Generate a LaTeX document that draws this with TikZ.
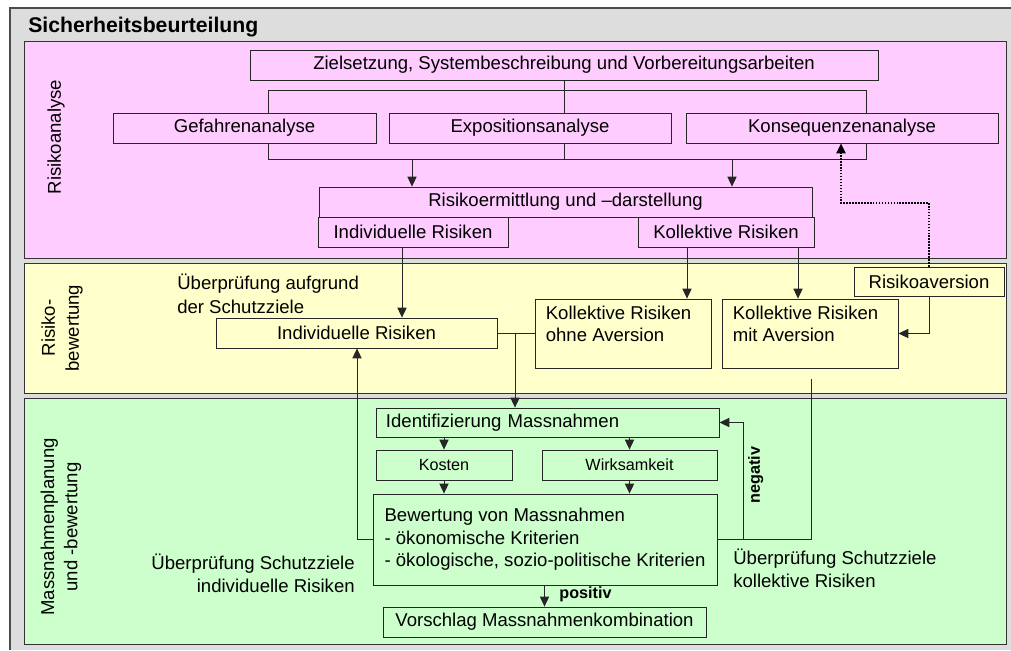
\documentclass[tikz,border=0pt]{standalone}
\usepackage{fontspec}
\setmainfont{Liberation Sans}
\usetikzlibrary{arrows.meta}
\definecolor{grau}{HTML}{DDDDDD}
\definecolor{rosa}{HTML}{FFCCFF}
\definecolor{gelb}{HTML}{FFFFCC}
\definecolor{gruen}{HTML}{CCFFCC}
\tikzset{
 kasten/.style={draw=black!85, line width=0.6pt, inner sep=0pt, minimum height=0.75cm, font=\fontsize{13.2}{16}\selectfont},
 klein/.style={font=\fontsize{11.5}{14}\selectfont},
 links/.style={align=left, inner xsep=0.25cm},
 schrift/.style={inner sep=0pt, font=\fontsize{13.2}{16.5}\selectfont},
 linie/.style={line width=0.6pt, draw=black!85},
 pfeil/.style={linie, -{Triangle[length=7pt,width=6.5pt]}},
 punkte/.style={line width=1.1pt, densely dotted, -{Triangle[length=7pt,width=6.5pt]}}
}
\begin{document}
\begin{tikzpicture}[x=0.025cm, y=-0.025cm]
\useasboundingbox (0,0) rectangle (1011,650);
% Rahmen und Bereiche
\fill[grau] (10,8) rectangle (1011,650);
\draw[black!70, line width=0.8pt] (10,650) -- (10,8) -- (1011,8);
\draw[black!80, line width=0.7pt, fill=rosa] (24,41) rectangle (1006,258);
\draw[black!80, line width=0.7pt, fill=gelb] (24,263) rectangle (1006,393);
\draw[black!80, line width=0.7pt, fill=gruen] (24,398) rectangle (1006,644);
\node[schrift, anchor=west, font=\fontsize{15.1}{18}\selectfont\bfseries] (titel) at (28,27) {Sicherheitsbeurteilung};
\node[schrift, rotate=90] (seite1) at (56,137) {Risikoanalyse};
\node[schrift, rotate=90, align=center, font=\fontsize{13.2}{17}\selectfont] (seite2) at (62,328) {Risiko-\\bewertung};
\node[schrift, rotate=90, align=center] (seite3) at (61,527) {Massnahmenplanung\\und -bewertung};

% Risikoanalyse
\node[kasten, fill=rosa, minimum width=15.7cm] (ziel) at (564,65) {Zielsetzung, Systembeschreibung und Vorbereitungsarbeiten};
\node[kasten, fill=rosa, minimum width=6.575cm] (gefahr) at (244.5,128) {Gefahrenanalyse};
\node[kasten, fill=rosa, minimum width=7.05cm] (expo) at (530,128) {Expositionsanalyse};
\node[kasten, fill=rosa, minimum width=7.8cm] (konseq) at (842,128) {Konsequenzenanalyse};
\node[kasten, fill=rosa, minimum width=12.325cm] (ermitt) at (565.5,202) {Risikoermittlung und –darstellung};
\node[kasten, fill=rosa, minimum width=4.75cm] (indrosa) at (413,232) {Individuelle Risiken};
\node[kasten, fill=rosa, minimum width=4.4cm] (kollrosa) at (726,232) {Kollektive Risiken};
\coordinate (kl1) at (268,90);
\coordinate (kr1) at (866,90);
\coordinate (kl2) at (268,159);
\coordinate (kr2) at (866,159);
\coordinate (pl) at (412,159);
\coordinate (pr) at (732,159);
\draw[linie] (kl1 |- gefahr.north) -- (kl1) -- (kr1) -- (kr1 |- konseq.north);
\draw[linie] (ziel.south) -- (ziel.south |- expo.north);
\draw[linie] (kl1 |- gefahr.south) -- (kl2) -- (kr2) -- (kr2 |- konseq.south);
\draw[linie] (ziel.south |- expo.south) -- (ziel.south |- kl2);
\draw[pfeil] (pl) -- (pl |- ermitt.north);
\draw[pfeil] (pr) -- (pr |- ermitt.north);

% Risikobewertung
\node[schrift, anchor=north west, align=left] (pruef1) at (177,274) {Überprüfung aufgrund\\der Schutzziele};
\node[kasten, fill=gelb, minimum width=7.025cm] (indgelb) at (356.5,333) {Individuelle Risiken};
\node[kasten, fill=gelb, minimum width=4.4cm, minimum height=1.725cm] (ohne) at (623,333.5) {};
\node[kasten, fill=gelb, minimum width=4.4cm, minimum height=1.725cm] (mit) at (810,333.5) {};
\node[schrift, anchor=north west, align=left, font=\fontsize{13.2}{16}\selectfont] (ohnetext) at ([shift={(11,7)}]ohne.north west) {Kollektive Risiken\\ohne Aversion};
\node[schrift, anchor=north west, align=left, font=\fontsize{13.2}{16}\selectfont] (mittext) at ([shift={(11,7)}]mit.north west) {Kollektive Risiken\\mit Aversion};
\node[kasten, fill=gelb, minimum width=3.75cm, minimum height=0.725cm] (aversion) at (929,281.5) {Risikoaversion};
\coordinate (a1) at (402,0);
\coordinate (a2) at (687,0);
\coordinate (a3) at (798,0);
\coordinate (d1) at (841,203);
\draw[pfeil] (indrosa.south -| a1) -- (indgelb.north -| a1);
\draw[pfeil] (kollrosa.south -| a2) -- (ohne.north -| a2);
\draw[pfeil] (kollrosa.south -| a3) -- (mit.north -| a3);
\draw[punkte] (aversion.north) |- (d1) -- (d1 |- konseq.south);
\draw[pfeil] (aversion.south) |- (mit.east);

% Massnahmenplanung
\node[kasten, fill=gruen, minimum width=8.575cm, minimum height=0.725cm, links, text width=8.075cm] (ident) at (547.5,422.5) {Identifizierung Massnahmen};
\node[kasten, klein, fill=gruen, minimum width=3.4cm] (kosten) at (444,465) {Kosten};
\node[kasten, klein, fill=gruen, minimum width=4.375cm] (wirk) at (629.5,465) {Wirksamkeit};
\node[kasten, fill=gruen, minimum width=8.6cm, minimum height=2.275cm, align=left] (bewert) at (545,539.5) {Bewertung von Massnahmen\\- ökonomische Kriterien\\- ökologische, sozio-politische Kriterien};
\node[kasten, fill=gruen, minimum width=8.075cm] (vorschlag) at (544.5,622) {Vorschlag Massnahmenkombination};
\node[schrift, anchor=east, align=right] (pruef2) at (355,573) {Überprüfung Schutzziele\\individuelle Risiken};
\node[schrift, anchor=west, align=left] (pruef3) at (733,568) {Überprüfung Schutzziele\\kollektive Risiken};
\coordinate (a4) at (515,0);
\coordinate (b1) at (357,0);
\coordinate (m1) at (811,379);
\coordinate (n1) at (743,0);
\draw[linie] (indgelb.east) -- (ohne.west |- indgelb.east);
\draw[pfeil] (indgelb.east -| a4) -- (ident.north -| a4);
\draw[pfeil] (bewert.west) -| (indgelb.south -| b1);
\draw[linie] (m1) |- (bewert.east);
\draw[pfeil] (bewert.east -| n1) -- node[font=\fontsize{11.5}{14}\selectfont\bfseries, rotate=90, anchor=north, pos=0.55] (neg) {negativ} (n1 |- ident.east) -- (ident.east);
\draw[pfeil] (ident.south -| kosten.north) -- (kosten.north);
\draw[pfeil] (ident.south -| wirk.north) -- (wirk.north);
\draw[pfeil] (kosten.south) -- (kosten.south |- bewert.north);
\draw[pfeil] (wirk.south) -- (wirk.south |- bewert.north);
\draw[pfeil] (bewert.south -| vorschlag.north) -- node[font=\fontsize{11.5}{14}\selectfont\bfseries, right, xshift=7pt, yshift=1pt] (pos) {positiv} (vorschlag.north);
\end{tikzpicture}
\end{document}
